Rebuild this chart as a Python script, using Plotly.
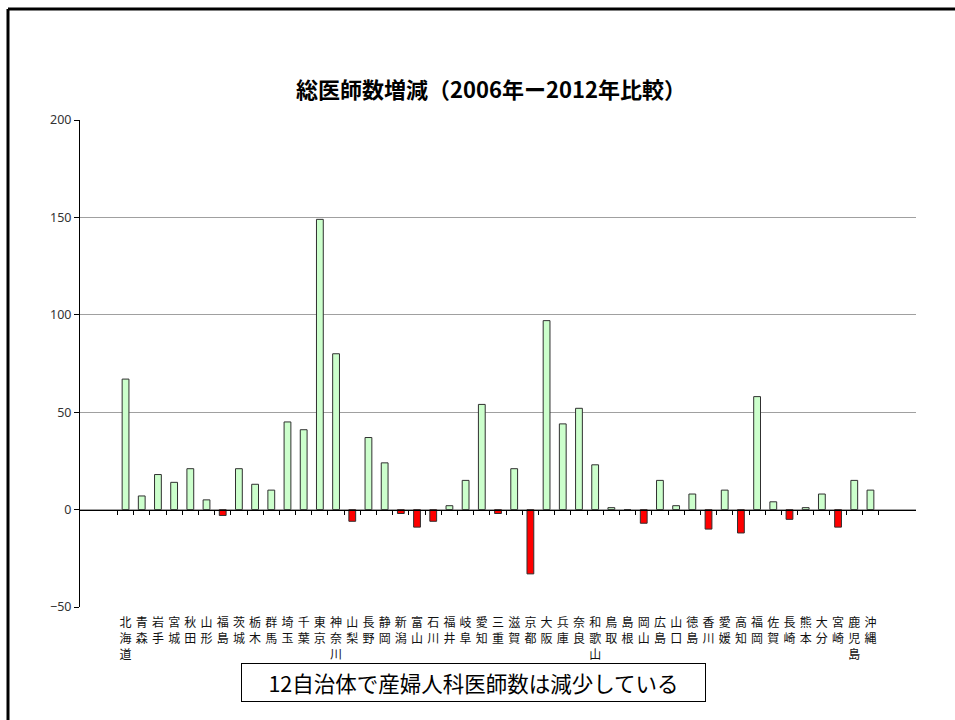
import plotly.graph_objects as go

prefectures = ["北海道", "青森", "岩手", "宮城", "秋田", "山形", "福島", "茨城", "栃木", "群馬",
               "埼玉", "千葉", "東京", "神奈川", "山梨", "長野", "静岡", "新潟", "富山", "石川",
               "福井", "岐阜", "愛知", "三重", "滋賀", "京都", "大阪", "兵庫", "奈良", "和歌山",
               "鳥取", "島根", "岡山", "広島", "山口", "徳島", "香川", "愛媛", "高知", "福岡",
               "佐賀", "長崎", "熊本", "大分", "宮崎", "鹿児島", "沖縄"]
changes = [67, 7, 18, 14, 21, 5, -3, 21, 13, 10,
           45, 41, 149, 80, -6, 37, 24, -2, -9, -6,
           2, 15, 54, -2, 21, -33, 97, 44, 52, 23,
           1, 0, -7, 15, 2, 8, -10, 10, -12, 58,
           4, -5, 1, 8, -9, 15, 10]
y_ticks = [-50, 0, 50, 100, 150, 200]
title_text = "総医師数増減（2006年ー2012年比較）"
note_text = "12自治体で産婦人科医師数は減少している"

POS_COLOR = "#CCFFCC"
NEG_COLOR = "#FF0000"
colors = [POS_COLOR if v >= 0 else NEG_COLOR for v in changes]
tick_text = ["<br>".join(list(p)) for p in prefectures]

JP = "Noto Sans CJK JP"

fig = go.Figure()
fig.add_trace(go.Bar(
    x=prefectures, y=changes,
    marker=dict(color=colors, line=dict(color="#303030", width=1)),
    hoverinfo="x+y", showlegend=False,
))
# overlay axis that draws the category axis line with boundary ticks at y = 0
fig.add_trace(go.Scatter(
    x=prefectures, y=changes, xaxis="x2", mode="markers",
    marker=dict(opacity=0), hoverinfo="skip", showlegend=False,
))

# outer frame (left and top edges only; the rest runs off the picture)
fx = (8 - 80) / 836
fy = (607 - 9) / 487
fx_end = (955 - 80) / 836
fy_end = (607 - 720) / 487

fig.update_layout(
    width=955, height=720,
    margin=dict(l=80, r=39, t=120, b=113),
    paper_bgcolor="white", plot_bgcolor="white",
    bargap=0.58,
    title=dict(text=title_text, x=491 / 955, xanchor="center", y=1 - 90 / 720, yanchor="middle",
               font=dict(family=JP, size=22, color="black", weight="bold")),
    xaxis=dict(
        type="category", categoryorder="array", categoryarray=prefectures,
        tickmode="array", tickvals=prefectures, ticktext=tick_text, tickangle=0,
        tickfont=dict(family=JP, size=12, color="#111"),
        showline=False, showgrid=False, zeroline=False,
        ticks="outside", ticklen=5, tickcolor="rgba(0,0,0,0)",
        fixedrange=True,
    ),
    xaxis2=dict(
        type="category", categoryorder="array", categoryarray=prefectures,
        overlaying="x", matches="x", anchor="free", position=0.2, side="bottom",
        showline=True, linecolor="black", linewidth=1,
        ticks="outside", ticklen=4, tickcolor="black", tickson="boundaries",
        showticklabels=False, showgrid=False, zeroline=False,
    ),
    yaxis=dict(
        range=[-50, 200], tickmode="array", tickvals=y_ticks,
        tickfont=dict(family="Noto Sans", size=12.5, color="#333"),
        showline=True, linecolor="black", linewidth=1,
        ticks="outside", ticklen=5, tickcolor="black",
        showgrid=True, gridcolor="#A0A0A0", gridwidth=1,
        zeroline=False, fixedrange=True,
    ),
    shapes=[
        dict(type="line", xref="paper", yref="paper", x0=fx, x1=fx_end, y0=fy, y1=fy,
             line=dict(color="black", width=3), layer="above"),
        dict(type="line", xref="paper", yref="paper", x0=fx, x1=fx, y0=fy, y1=fy_end,
             line=dict(color="black", width=3), layer="above"),
    ],
    annotations=[dict(
        text=note_text, xref="paper", yref="paper",
        x=(473 - 80) / 836, y=(607 - 682.5) / 487, xanchor="center", yanchor="middle",
        showarrow=False, width=461, height=35,
        bordercolor="black", borderwidth=1, borderpad=1, bgcolor="white",
        font=dict(family=JP, size=21.5, color="black"),
    )],
)

fig.write_html("out.html", config={"displayModeBar": False},
               post_script="document.body.style.margin='0';document.body.style.overflow='hidden';")
